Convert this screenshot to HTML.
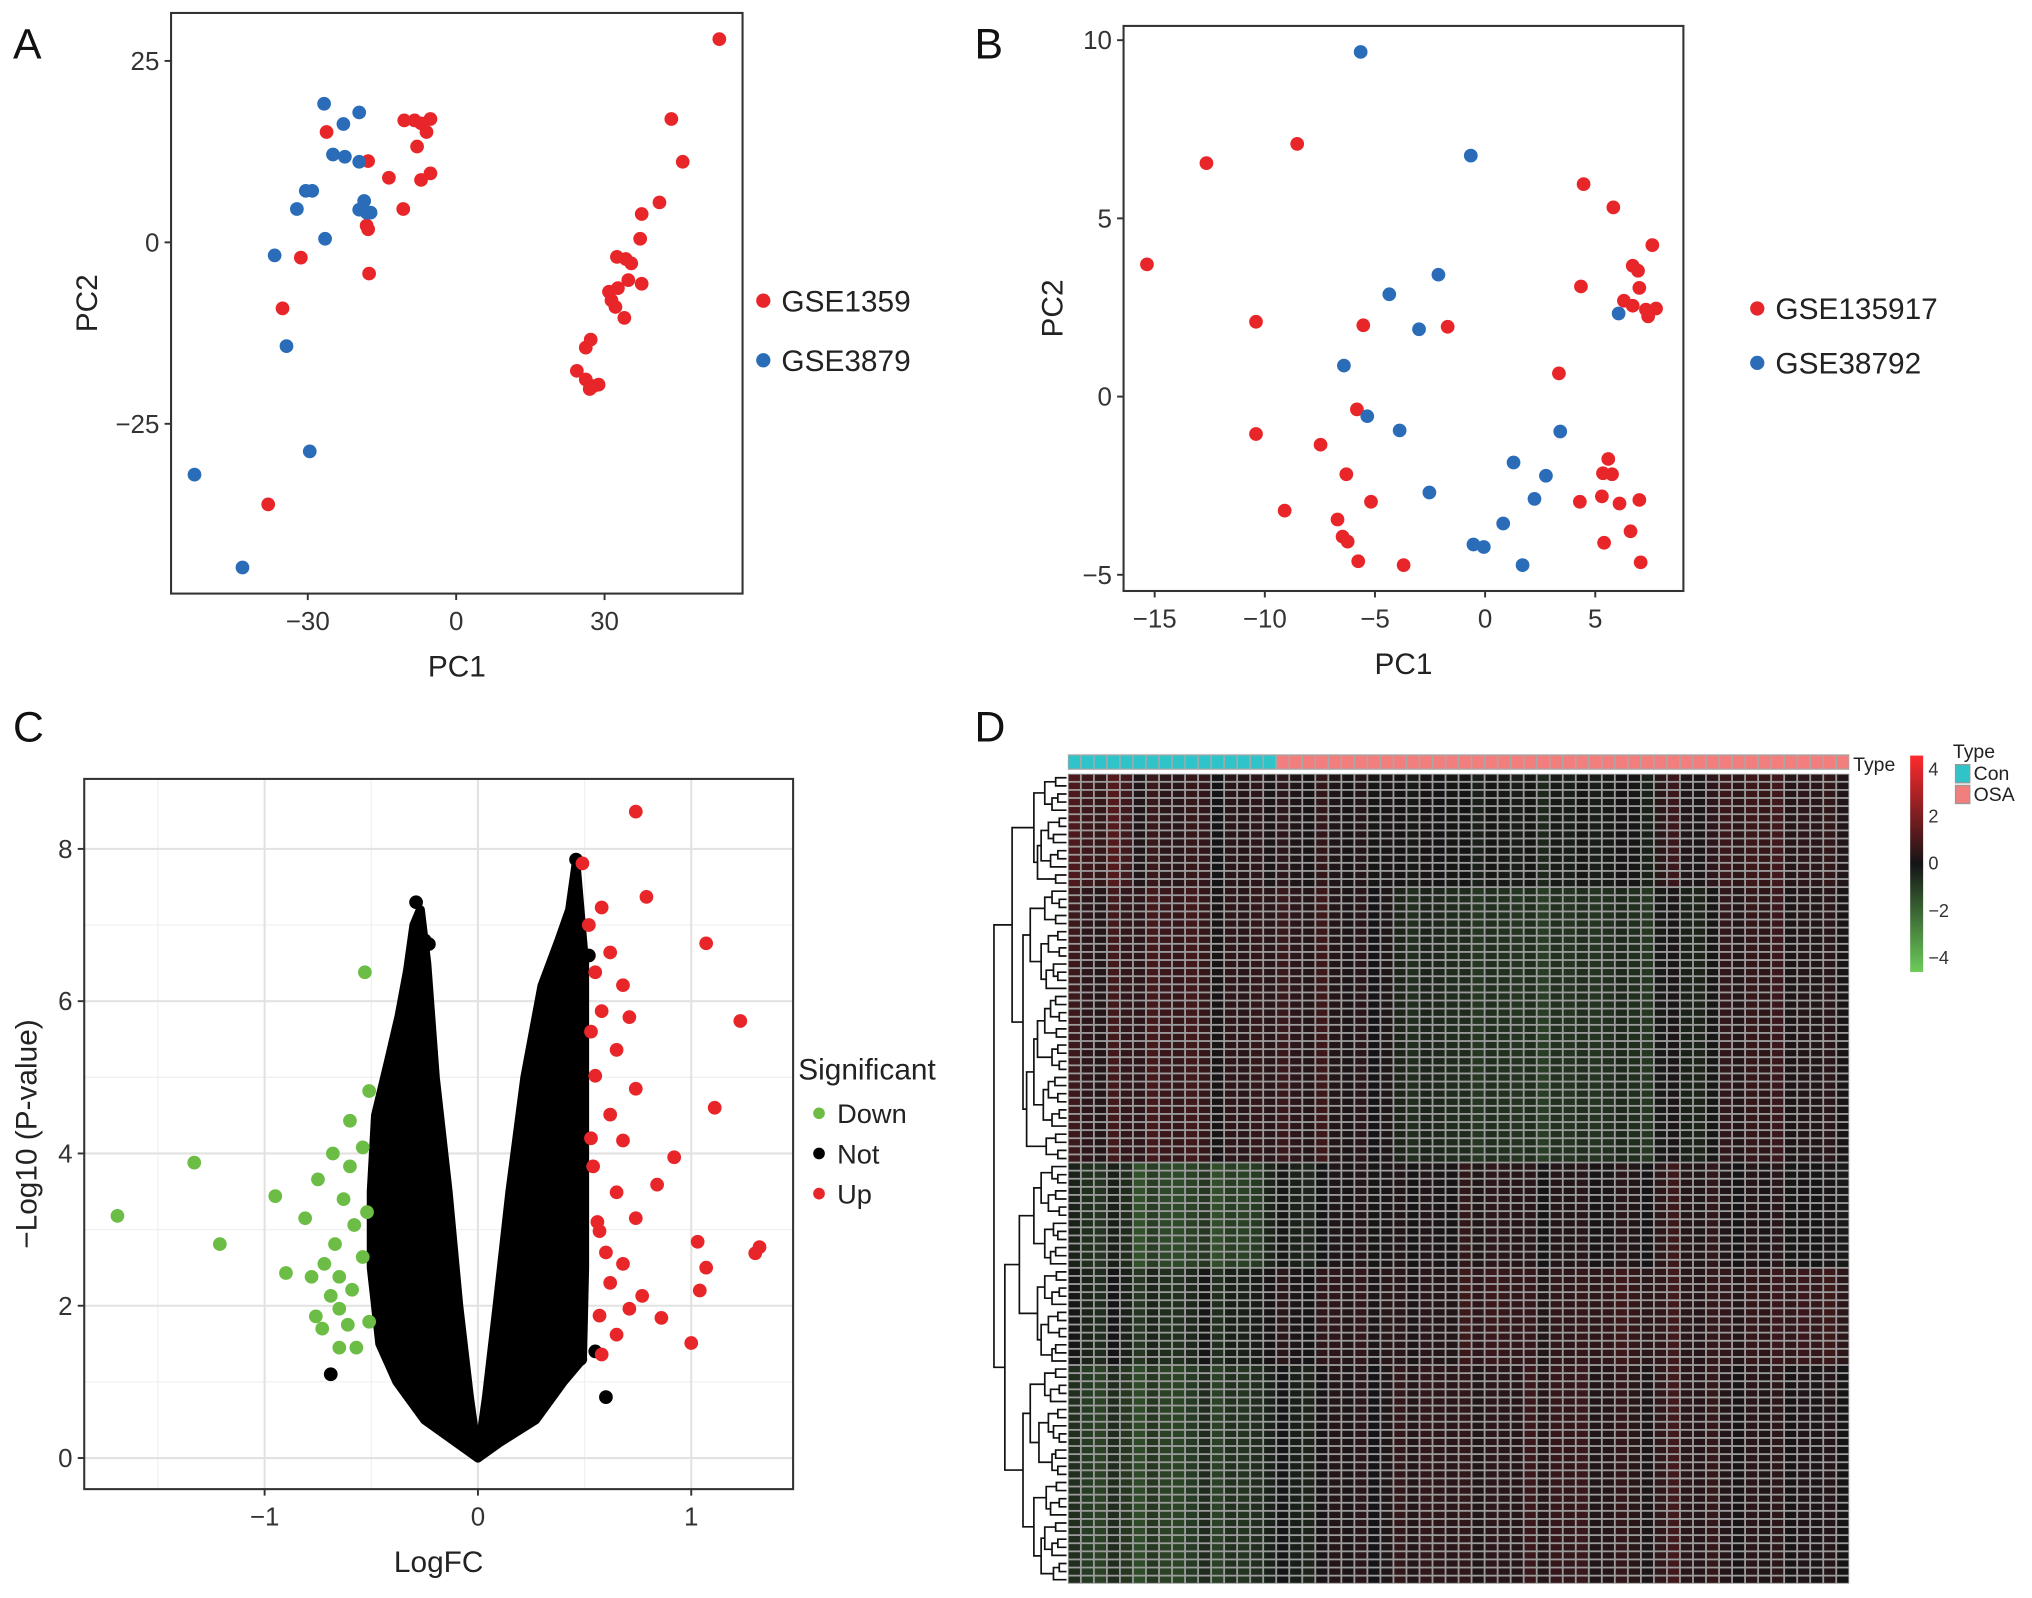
<!DOCTYPE html>
<html><head><meta charset="utf-8">
<style>
html,body{margin:0;padding:0;background:#fff;}
svg{display:block;font-family:"Liberation Sans",Arial,sans-serif;}
</style></head>
<body>
<svg id="fig" width="2032" height="1598" viewBox="0 0 1568 1233" preserveAspectRatio="none" xmlns="http://www.w3.org/2000/svg">
<g id="A"></g>
<g id="B"></g>
<g id="C"></g>
<g id="D"></g>
</svg>
<script>
// ---------- Panel A data ----------
const aRedX=[53.2,43.5,45.8,41.1,37.5,37.2,32.5,34.3,35.4,37.5,34.8,32.7,30.9,31.4,32.2,34.0,27.2,26.2,24.4,26.2,27.8,28.8,27.0,-26.2,-17.8,-13.6,-10.5,-8.4,-7.1,-5.2,-6.0,-7.9,-5.2,-7.1,-10.7,-18.1,-17.8,-17.6,-31.4,-35.1,-38.0];
const aRedY=[28.0,17.0,11.1,5.5,3.9,0.5,-2.0,-2.3,-2.9,-5.7,-5.2,-6.3,-6.8,-8.0,-8.9,-10.4,-13.4,-14.5,-17.7,-18.9,-19.8,-19.6,-20.2,15.2,11.2,8.9,16.8,16.8,16.4,17.0,15.2,13.2,9.5,8.6,4.6,2.3,1.8,-4.3,-2.1,-9.1,-36.1];
const aBlueX=[-26.7,-19.6,-22.8,-24.9,-22.5,-19.6,-30.4,-29.1,-32.2,-18.6,-19.6,-18.1,-17.3,-26.5,-36.7,-34.3,-29.6,-52.9,-43.2];
const aBlueY=[19.1,17.9,16.3,12.1,11.8,11.1,7.1,7.1,4.6,5.7,4.5,4.1,4.1,0.5,-1.8,-14.3,-28.8,-32.0,-44.8];
const aXTicks=[-30,0,30], aYTicks=[25,0,-25];
// ---------- Panel B data ----------
const bRedX=[-15.35,-12.65,-8.53,-10.4,-10.4,-9.1,-7.47,-6.7,-6.3,-6.47,-6.24,-5.76,-5.18,-5.82,-5.53,-3.7,-1.7,3.35,4.47,5.82,4.35,7.59,6.7,6.94,7.0,6.3,6.7,7.3,7.76,7.4,4.3,5.59,5.35,5.76,5.3,6.1,7.0,6.6,5.4,7.06];
const bRedY=[3.71,6.55,7.09,2.1,-1.05,-3.2,-1.35,-3.45,-2.18,-3.93,-4.07,-4.62,-2.95,-0.36,2.0,-4.73,1.96,0.65,5.96,5.31,3.09,4.25,3.67,3.53,3.05,2.69,2.55,2.44,2.47,2.25,-2.95,-1.75,-2.15,-2.18,-2.8,-3.0,-2.9,-3.78,-4.1,-4.65];
const bBlueX=[-5.65,-0.65,-2.12,-4.35,-3.0,-6.41,-5.35,-3.88,-2.53,-0.53,-0.06,0.82,1.7,1.29,2.24,2.76,3.41,6.06];
const bBlueY=[9.67,6.76,3.42,2.87,1.89,0.87,-0.55,-0.95,-2.69,-4.15,-4.22,-3.56,-4.73,-1.85,-2.87,-2.22,-0.98,2.33];
const bXTicks=[-15,-10,-5,0,5], bYTicks=[10,5,0,-5];
// ---------- Panel C data ----------
const cDownX=[-1.69,-1.33,-1.21,-0.95,-0.53,-0.51,-0.81,-0.9,-0.76,-0.73,-0.65,-0.57,-0.54,-0.6,-0.68,-0.75,-0.63,-0.58,-0.67,-0.72,-0.65,-0.59,-0.54,-0.69,-0.61,-0.78,-0.51,-0.52,-0.6,-0.65];
const cDownY=[3.18,3.88,2.81,3.44,6.38,4.82,3.15,2.43,1.86,1.7,1.96,1.45,4.08,3.83,4.0,3.66,3.4,3.06,2.81,2.55,2.38,2.21,2.64,2.13,1.75,2.38,1.79,3.23,4.43,1.45];
const cUpX=[0.74,0.49,0.79,1.07,1.23,1.11,0.92,0.84,1.03,1.07,1.32,1.30,1.04,0.86,1.0,0.55,0.62,0.68,0.58,0.71,0.65,0.55,0.74,0.62,0.68,0.54,0.65,0.74,0.57,0.68,0.62,0.77,0.57,0.65,0.58,0.71,0.52,0.58,0.53,0.56,0.6,0.53];
const cUpY=[8.49,7.81,7.37,6.76,5.74,4.6,3.95,3.59,2.84,2.5,2.77,2.69,2.2,1.84,1.51,6.38,6.64,6.21,5.87,5.79,5.36,5.02,4.85,4.51,4.17,3.83,3.49,3.15,2.98,2.55,2.3,2.13,1.87,1.62,1.36,1.96,7.0,7.23,4.2,3.1,2.7,5.6];
const cNotX=[-0.29,0.46,-0.25,-0.23,0.6,-0.69,0.55,0.48,-0.42,0.52];
const cNotY=[7.3,7.86,6.8,6.75,0.8,1.1,1.4,1.3,1.5,6.6];
const cLeftLobeX=[0,-0.1,-0.25,-0.38,-0.46,-0.5,-0.5,-0.48,-0.42,-0.37,-0.33,-0.3,-0.27,-0.24,-0.2,-0.14,-0.09,-0.04];
const cLeftLobeY=[0,0.2,0.5,1.0,1.5,2.5,3.5,4.5,5.2,5.8,6.4,7.0,7.2,6.5,5.0,3.5,2.0,0.8];
const cRightLobeX=[0,0.04,0.09,0.15,0.22,0.3,0.38,0.43,0.46,0.5,0.5,0.5,0.49,0.4,0.27,0.1];
const cRightLobeY=[0,0.8,2.0,3.5,5.0,6.2,6.8,7.2,7.8,6.5,4.5,2.5,1.3,1.0,0.5,0.2];
const cXTicks=[-1,0,1], cYTicks=[0,2,4,6,8];
// ---------- Panel D data ----------
const dNCon=16, dNOsa=44, dNRows=100;
const dBandEnds=[14,48,61,73,100];
const dBandGroupVals=[
 [1.0,0.6,0.4,0.3,0.2,0,-0.2,-0.3,-0.2,0.3,0.8,0.5],
 [0.6,0.9,0.5,0.6,0.3,-0.6,-0.9,-1.0,-0.9,-0.4,0.6,0.3],
 [-0.8,-1.6,-1.4,-0.4,0.2,0.2,0.5,0.3,0.2,0.4,0.2,0.0],
 [-0.5,-0.8,-0.4,0.2,0.5,0.4,0.8,0.6,0.7,0.5,0.6,0.8],
 [-1.2,-1.4,-1.0,-0.3,0.3,0.6,0.5,0.7,0.4,0.5,0.3,0.2]];
const dColOffsets=[0.4,0,-0.2,0.5,0.1,-0.3,0.3,0,-0.1,0.2,0.3,-0.4,0.1,0,0.2,-0.1,
 0.3,0,-0.2,0.4,0.1,-0.1,0.2,-0.3,0,0.1,-0.2,0.1,0,-0.1,0.2,-0.2,0.1,0,-0.1,0.2,-0.3,0.1,0,0.2,
 -0.1,0,0.3,0.1,-0.2,0.2,0.6,0,-0.1,0.3,0.1,-0.2,0.2,0,0.3,-0.1,0.1,0,0.2,-0.2];
const dGaps=[0.15,0.3,0.12,0.2,0.45,0.1,0.25,0.18,0.35,0.12,0.22,0.4,0.15,
 0.75,
 0.2,0.1,0.3,0.15,0.5,0.12,0.25,0.1,0.35,0.18,0.12,0.28,0.6,0.15,0.22,0.1,0.3,0.14,0.4,0.12,0.2,0.1,0.45,0.16,0.25,0.12,0.32,0.1,0.2,0.55,0.15,0.28,0.12,
 1.0,
 0.2,0.12,0.35,0.15,0.25,0.1,0.45,0.18,0.12,0.3,0.15,0.22,0.65,0.14,0.3,0.1,0.2,0.4,0.12,0.25,0.1,0.35,0.15,0.2,
 0.85,
 0.15,0.3,0.1,0.22,0.5,0.12,0.25,0.18,0.1,0.38,0.15,0.2,0.12,0.6,0.14,0.28,0.1,0.22,0.45,0.15,0.3,0.12,0.2,0.35,0.1,0.18];
const dScaleTicks=[4,2,0,-2,-4];

const NS="http://www.w3.org/2000/svg";
function mk(parent,tag,attrs,text){const e=document.createElementNS(NS,tag);for(const k in attrs)e.setAttribute(k,attrs[k]);if(text!==undefined)e.textContent=text;parent.appendChild(e);return e;}
const RED="#e8262a", BLUE="#2a6cb8", GREEN="#6cbd45";

function axes(g,box,sx,sy,xt,yt,xlab,ylab,grid){
  if(grid){
    for(const v of grid.xMinor){const l=mk(g,'line',{x1:sx(v),x2:sx(v),y1:box.t,y2:box.b,stroke:'#f0f0f0','stroke-width':1});}
    for(const v of grid.yMinor){const l=mk(g,'line',{y1:sy(v),y2:sy(v),x1:box.l,x2:box.r,stroke:'#f0f0f0','stroke-width':1});}
    for(const v of xt){const l=mk(g,'line',{x1:sx(v),x2:sx(v),y1:box.t,y2:box.b,stroke:'#e2e2e2','stroke-width':1.6});}
    for(const v of yt){const l=mk(g,'line',{y1:sy(v),y2:sy(v),x1:box.l,x2:box.r,stroke:'#e2e2e2','stroke-width':1.6});}
  }
  for(const v of xt){
    const t=mk(g,'line',{x1:sx(v),x2:sx(v),y1:box.b,y2:box.b+5,stroke:'#333','stroke-width':1.5});
    
    const lb=mk(g,'text',{x:sx(v),y:box.b+28,'text-anchor':'middle','font-size':20,fill:'#333'},String(v).replace('-','\u2212'));
    
  }
  for(const v of yt){
    const t=mk(g,'line',{x1:box.l-5,x2:box.l,y1:sy(v),y2:sy(v),stroke:'#333','stroke-width':1.5});
    
    const lb=mk(g,'text',{x:box.l-9,y:sy(v)+7,'text-anchor':'end','font-size':20,fill:'#333'},String(v).replace('-','\u2212'));
    
  }
  const xl=mk(g,'text',{x:(box.l+box.r)/2,y:box.b+64,'text-anchor':'middle','font-size':23,fill:'#222'},xlab);
  
  const cy=(box.t+box.b)/2, cx=ylab.x;
  const yl=mk(g,'text',{x:cx,y:cy,'text-anchor':'middle','font-size':23,fill:'#222',transform:`rotate(-90 ${cx} ${cy})`},ylab.t);
  
}
function frame(g,box){const r=mk(g,'rect',{x:box.l,y:box.t,width:box.r-box.l,height:box.b-box.t,fill:'none',stroke:'#333','stroke-width':1.6});}
function pts(g,xs,ys,sx,sy,col,name){for(let i=0;i<xs.length;i++){const c=mk(g,'circle',{cx:sx(xs[i]),cy:sy(ys[i]),r:5.3,fill:col});}}
function legend(g,x,y,items,fs){items.forEach((it,i)=>{const c=mk(g,'circle',{cx:x,cy:y+i*it.dy,r:it.r,fill:it.c});const t=mk(g,'text',{x:x+14,y:y+i*it.dy+fs*0.36,'font-size':fs,fill:'#222'},it.t);});}
function panelLabel(g,x,y,t){const e=mk(g,'text',{x:x,y:y,'font-size':33,fill:'#111'},t);}

// Panel A
(function(){
 const g=document.getElementById('A');
 const box={l:132,r:573,t:10,b:458};
 const sx=x=>352+x*3.817, sy=y=>187-y*5.6;
 axes(g,box,sx,sy,aXTicks,aYTicks,'PC1',{x:75,t:'PC2'});
 pts(g,aRedX,aRedY,sx,sy,RED,'point-gse1359');
 pts(g,aBlueX,aBlueY,sx,sy,BLUE,'point-gse3879');
 frame(g,box);
 legend(g,589,232,[{c:RED,t:'GSE1359',dy:46,r:5.5},{c:BLUE,t:'GSE3879',dy:46,r:5.5}],23);
 panelLabel(g,10,45,'A');
})();
// Panel B
(function(){
 const g=document.getElementById('B');
 const box={l:867,r:1299,t:20,b:456};
 const sx=x=>1146+17*x, sy=y=>306-27.5*y;
 axes(g,box,sx,sy,bXTicks,bYTicks,'PC1',{x:820,t:'PC2'});
 pts(g,bRedX,bRedY,sx,sy,RED,'point-gse135917');
 pts(g,bBlueX,bBlueY,sx,sy,BLUE,'point-gse38792');
 frame(g,box);
 legend(g,1356,238,[{c:RED,t:'GSE135917',dy:42,r:5.5},{c:BLUE,t:'GSE38792',dy:42,r:5.5}],23);
 panelLabel(g,752,45,'B');
})();
// Panel C
(function(){
 const g=document.getElementById('C');
 const box={l:65,r:612,t:601,b:1149};
 const sx=x=>368.8+164.6*x, sy=y=>1125-58.75*y;
 axes(g,box,sx,sy,cXTicks,cYTicks,'LogFC',{x:28,t:'\u2212Log10 (P-value)'},{xMinor:[-1.5,-0.5,0.5],yMinor:[1,3,5,7]});
 function lobe(xs,ys,name){let d='';for(let i=0;i<xs.length;i++)d+=(i?'L':'M')+sx(xs[i])+' '+sy(ys[i]);d+='Z';const p=mk(g,'path',{d:d,fill:'#000',stroke:'#000','stroke-width':7,'stroke-linejoin':'round'});}
 lobe(cLeftLobeX,cLeftLobeY,'not-significant-cloud-left');
 lobe(cRightLobeX,cRightLobeY,'not-significant-cloud-right');
 pts(g,cNotX,cNotY,sx,sy,'#000','point-not');
 pts(g,cDownX,cDownY,sx,sy,GREEN,'point-down');
 pts(g,cUpX,cUpY,sx,sy,RED,'point-up');
 frame(g,box);
 const tt=mk(g,'text',{x:616,y:833,'font-size':23,fill:'#222'},'Significant');
 
 legend(g,632,859,[{c:GREEN,t:'Down',dy:31,r:4.5},{c:'#000',t:'Not',dy:31,r:4.5},{c:RED,t:'Up',dy:31,r:4.5}],21);
 panelLabel(g,10,572,'C');
})();
// Panel D
(function(){
 const g=document.getElementById('D');
 panelLabel(g,752,572,'D');
 const x0=824,y0=597,W=603,H=625,nCol=dNCon+dNOsa;
 const cw=W/nCol, rh=H/dNRows;
 function col(v){v=Math.max(-4,Math.min(4,v));const t=Math.abs(v)/4;let r,gg,b;
   if(v>=0){r=20+235*t;gg=20+22*t;b=22+24*t;}else{r=20+88*t;gg=20+184*t;b=20+70*t;}
   return `rgb(${Math.round(r)},${Math.round(gg)},${Math.round(b)})`;}
 const bg=mk(g,'rect',{x:x0,y:582,width:W,height:12,fill:'#a8a8a8'});
 
 for(let c=0;c<nCol;c++){const r=mk(g,'rect',{x:x0+c*cw+0.6,y:583,width:cw-1.2,height:10,fill:c<dNCon?'#2ec4c9':'#f27e7e'});}
 const tl=mk(g,'text',{x:1430,y:595,'font-size':15,fill:'#222'},'Type');
 
 const bgc=mk(g,'rect',{x:x0,y:y0,width:W,height:H,fill:'#9c9c9c'});
 
 for(let r=0;r<dNRows;r++){
   let band=0;while(r>=dBandEnds[band])band++;
   for(let c=0;c<nCol;c++){
     const v=0.7*(dBandGroupVals[band][Math.floor(c/5)]+dColOffsets[c]);
     const e=mk(g,'rect',{x:x0+c*cw+0.7,y:y0+r*rh+0.7,width:cw-1.4,height:rh-1.4,fill:col(v)});
     
   }
 }
 const dx=h=>x0-1-h*56, ry=i=>y0+(i+0.5)*rh;
 const dg=mk(g,'g',{stroke:'#111','stroke-width':1.3,fill:'none'});
 
 function tree(lo,hi){
   if(lo===hi)return {y:ry(lo),h:0};
   let gi=lo;for(let i=lo;i<hi;i++)if(dGaps[i]>dGaps[gi])gi=i;
   const a=tree(lo,gi),b=tree(gi+1,hi),Hh=dGaps[gi];
   mk(dg,'path',{d:`M${dx(a.h)} ${a.y}H${dx(Hh)}V${b.y}H${dx(b.h)}`});
   return {y:(a.y+b.y)/2,h:Hh};
 }
 tree(0,dNRows-1);
 const defs=mk(g,'defs',{});
 const lg=mk(defs,'linearGradient',{id:'cs',x1:0,y1:0,x2:0,y2:1});
 [[0,col(4.6)],[0.5,col(0)],[1,col(-4.6)]].forEach(s=>mk(lg,'stop',{offset:s[0],'stop-color':s[1]}));
 const cb=mk(g,'rect',{x:1474,y:583,width:10,height:167,fill:'url(#cs)'});
 
 const sY=v=>666-v*18.2;
 for(const v of dScaleTicks){const t=mk(g,'text',{x:1488,y:sY(v)+5,'font-size':14,fill:'#333'},String(v).replace('-','\u2212'));}
 const lt=mk(g,'text',{x:1507,y:585,'font-size':15,fill:'#222'},'Type');
 
 [['#2ec4c9','Con'],['#f27e7e','OSA']].forEach((it,i)=>{
   const s=mk(g,'rect',{x:1509,y:590+i*16,width:11,height:14,fill:it[0],stroke:'#999','stroke-width':1});
   
   const t=mk(g,'text',{x:1523,y:602+i*16,'font-size':15,fill:'#222'},it[1]);
   
 });
})();
</script>
</body></html>
